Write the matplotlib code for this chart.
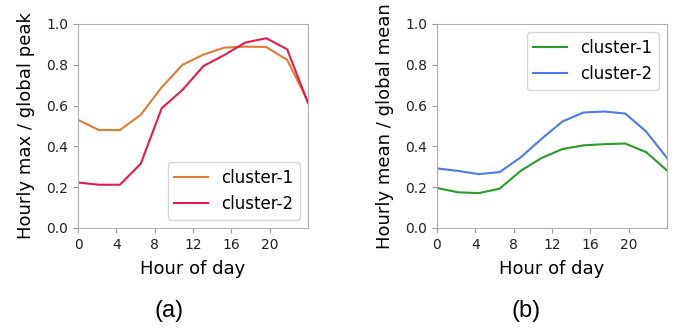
import matplotlib
matplotlib.use("Agg")
import matplotlib.pyplot as plt
import numpy as np

hours = np.linspace(0, 24, 12)

max_c1 = [0.53, 0.48, 0.48, 0.555, 0.69, 0.80, 0.85, 0.884, 0.889, 0.887, 0.824, 0.62]
max_c2 = [0.223, 0.212, 0.212, 0.315, 0.587, 0.677, 0.794, 0.848, 0.909, 0.93, 0.876, 0.612]

mean_c1 = [0.196, 0.175, 0.171, 0.193, 0.28, 0.343, 0.387, 0.405, 0.411, 0.414, 0.372, 0.282]
mean_c2 = [0.292, 0.28, 0.264, 0.274, 0.346, 0.437, 0.522, 0.566, 0.571, 0.561, 0.473, 0.343]

xticks = [0, 4, 8, 12, 16, 20]
yticks = [0.0, 0.2, 0.4, 0.6, 0.8, 1.0]

fig = plt.figure(figsize=(6.91, 3.28), dpi=100)
ax1 = fig.add_axes([0.1129, 0.3049, 0.3329, 0.622])
ax2 = fig.add_axes([0.6324, 0.3049, 0.3329, 0.622])


def style(ax, ylabel):
    ax.set_xlim(0, 24)
    ax.set_ylim(0, 1)
    ax.set_xticks(xticks)
    ax.set_yticks(yticks)
    ax.set_yticklabels(["%.1f" % v for v in yticks])
    ax.tick_params(labelsize=10, color="#999999", length=3.5, labelcolor="#222222")
    for s in ax.spines.values():
        s.set_color("#b0b0b0")
    ax.set_xlabel("Hour of day", fontsize=13, labelpad=6)
    ax.set_ylabel(ylabel, fontsize=13, labelpad=8)


ax1.plot(hours, max_c1, color="#e07b39", lw=1.5, label="cluster-1")
ax1.plot(hours, max_c2, color="#e31c4f", lw=1.5, label="cluster-2")
style(ax1, "Hourly max / global peak")
ax1.legend(loc="lower right", fontsize=12, handlelength=2.0)

ax2.plot(hours, mean_c1, color="#2a9a2a", lw=1.5, label="cluster-1")
ax2.plot(hours, mean_c2, color="#4f78ea", lw=1.5, label="cluster-2")
style(ax2, "Hourly mean / global mean")
ax2.legend(loc="upper right", fontsize=12, handlelength=2.0)

fig.text(0.244, 0.052, "(a)", fontsize=17, family="Liberation Sans", ha="center", va="center")
fig.text(0.762, 0.052, "(b)", fontsize=17, family="Liberation Sans", ha="center", va="center")

fig.savefig("out.png", dpi=100)
